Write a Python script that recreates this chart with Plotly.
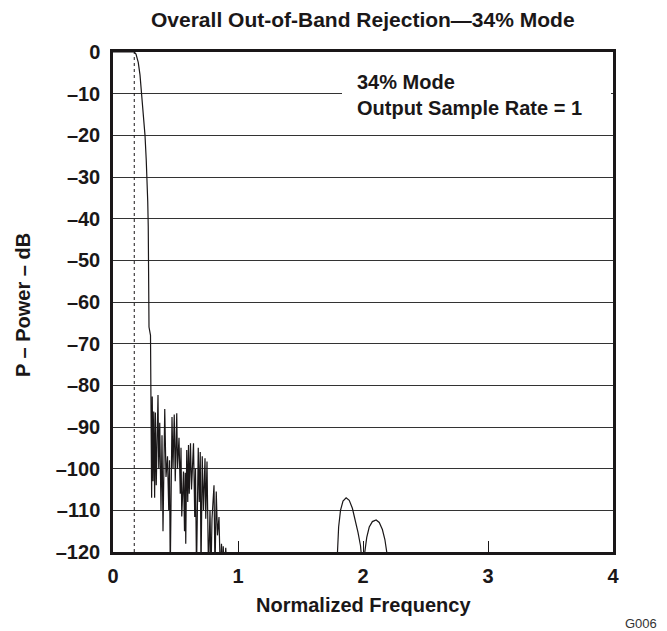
import plotly.graph_objects as go

# Normalized frequency and power (dB)
freq = [0.000, 0.170, 0.184, 0.202, 0.216, 0.230, 0.244, 0.256, 0.266, 0.272,
        0.278, 0.282, 0.284, 0.286, 0.287, 0.288, 0.300, 0.301, 0.302,
        0.304, 0.309, 0.314, 0.320, 0.326, 0.333, 0.339, 0.346, 0.360, 0.366,
        0.374, 0.384, 0.392, 0.400, 0.414, 0.424, 0.436, 0.446, 0.452, 0.458,
        0.472, 0.480, 0.490, 0.498, 0.510, 0.516, 0.528, 0.538, 0.544, 0.550,
        0.564, 0.572, 0.578, 0.582, 0.590, 0.598, 0.604, 0.610, 0.620, 0.628,
        0.644, 0.654, 0.660, 0.668, 0.682, 0.690, 0.698, 0.704, 0.714, 0.724,
        0.736, 0.742, 0.752, 0.764, 0.776, 0.784, 0.792, 0.808, 0.816, 0.826,
        0.836, 0.848, 0.858, 0.868, 0.876, 0.882, 0.890, 0.902, 0.912,
        0.950, 1.750,
        1.790, 1.796, 1.805, 1.820, 1.840, 1.865, 1.890, 1.915, 1.940, 1.960,
        1.980, 1.995, 2.000,
        2.010, 2.030, 2.050, 2.075, 2.105, 2.130, 2.155, 2.175, 2.190, 2.197,
        2.250, 4.000]
power = [0.0, 0.0, -0.5, -2.5, -5.5, -10.0, -15.0, -20.0, -26.0, -30.0,
         -36.0, -42.0, -50.0, -58.0, -66.0, -66.0, -68.0, -80.0, -84.0,
         -84.0, -107.0, -82.7, -103.0, -86.3, -107.0, -86.5, -104.0, -82.3, -100.0,
         -89.0, -110.0, -92.0, -115.0, -85.7, -102.0, -97.0, -110.0, -98.0, -125.0,
         -87.6, -100.0, -87.0, -103.0, -86.7, -100.0, -92.6, -106.0, -95.0, -111.5,
         -100.7, -115.0, -101.0, -118.0, -95.5, -108.0, -94.3, -106.0, -93.9, -105.0,
         -93.9, -111.6, -100.0, -125.0, -95.0, -108.0, -96.0, -125.0, -97.0, -110.0,
         -97.5, -112.0, -98.3, -125.0, -110.0, -125.0, -112.0, -104.0, -125.0, -105.5,
         -116.0, -111.6, -125.0, -118.0, -125.0, -118.6, -125.0, -119.0, -125.0,
         -130.0, -130.0,
         -125.0, -120.0, -114.0, -110.0, -107.8, -107.0, -107.6, -109.5, -112.5, -115.3,
         -118.5, -122.0, -125.0,
         -121.0, -116.5, -114.0, -112.7, -112.3, -112.9, -114.6, -117.0, -120.0, -125.0,
         -130.0, -130.0]

passband_edge = 0.17
x_ticks = [0, 1, 2, 3, 4]
y_ticks = list(range(-120, 1, 10))
y_ticktext = ["0" if v == 0 else "\u2013" + str(-v) for v in y_ticks]

title_text = "Overall Out-of-Band Rejection\u201434% Mode"
x_title = "Normalized Frequency"
y_title = "P \u2013 Power \u2013 dB"
note_text = "34% Mode<br>Output Sample Rate = 1"
fig_id = "G006"

FONT = "Liberation Sans, Arial, Helvetica, sans-serif"
INK = "#1a1718"

fig = go.Figure()
fig.add_trace(go.Scatter(x=freq, y=power, mode="lines",
                         line=dict(color=INK, width=1.2), hoverinfo="skip"))
fig.add_trace(go.Scatter(x=[passband_edge, passband_edge], y=[y_ticks[0], y_ticks[-1]],
                         mode="lines", line=dict(color=INK, width=1, dash="dot"),
                         hoverinfo="skip"))

bold = dict(family=FONT, size=20, color=INK, weight="bold")

fig.update_layout(
    width=667, height=631,
    margin=dict(l=113, r=54, t=52, b=79),
    paper_bgcolor="white", plot_bgcolor="white",
    showlegend=False,
    xaxis=dict(range=[0, 4], tickvals=x_ticks, ticktext=[str(v) for v in x_ticks],
               ticks="inside", ticklen=11, tickwidth=1, tickcolor=INK,
               showgrid=False, zeroline=False,
               showline=True, linewidth=2.5, linecolor=INK, mirror=True,
               tickfont=bold, ticklabelstandoff=4),
    yaxis=dict(range=[-120, 0], tickvals=y_ticks, ticktext=y_ticktext,
               ticks="", showgrid=True, gridcolor="#333333", gridwidth=1,
               zeroline=False,
               showline=True, linewidth=2.5, linecolor=INK, mirror=True,
               tickfont=bold, ticklabelstandoff=6),
)

# white patch behind the note text (interrupts the gridline)
fig.add_shape(type="rect", xref="paper", yref="paper",
              x0=0.458, x1=0.996, y0=0.86, y1=0.97,
              fillcolor="white", line=dict(width=0), layer="above")

fig.add_annotation(text=note_text, xref="paper", yref="paper",
                   x=0.484, y=0.914, xanchor="left", yanchor="middle",
                   align="left", showarrow=False, font=bold)
fig.add_annotation(text=title_text, xref="paper", yref="paper",
                   x=0.5, y=1.064, xanchor="center", yanchor="middle",
                   showarrow=False, font=dict(family=FONT, size=21, color=INK, weight="bold"))
fig.add_annotation(text=x_title, xref="paper", yref="paper",
                   x=0.5, y=-0.106, xanchor="center", yanchor="middle",
                   showarrow=False, font=bold)
fig.add_annotation(text=y_title, xref="paper", yref="paper",
                   x=-0.18, y=0.494, xanchor="center", yanchor="middle",
                   textangle=-90, showarrow=False, font=bold)
fig.add_annotation(text=fig_id, xref="paper", yref="paper",
                   x=1.056, y=-0.142, xanchor="center", yanchor="middle",
                   showarrow=False, font=dict(family=FONT, size=13, color="#333333"))

fig.write_html("out.html")
